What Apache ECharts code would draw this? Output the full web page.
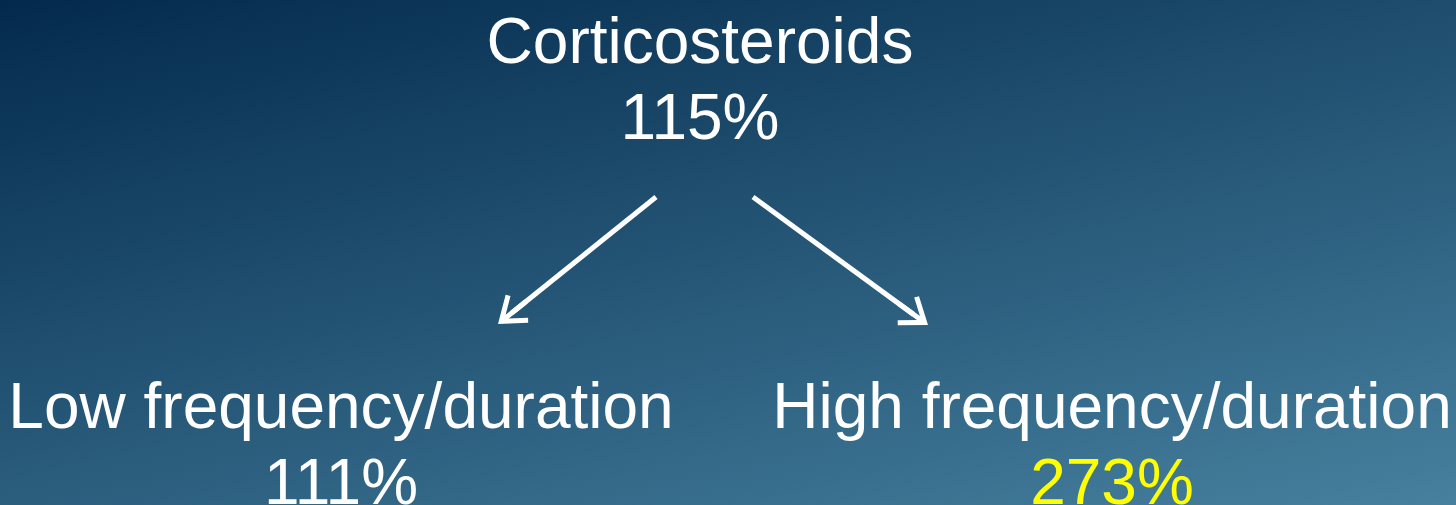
<!DOCTYPE html>
<html>
<head>
<meta charset="utf-8">
<style>
  html, body { margin: 0; padding: 0; }
  #main { width: 1456px; height: 505px; }
</style>
<script src="https://cdn.jsdelivr.net/npm/echarts@6/dist/echarts.min.js"></script>
</head>
<body>
<div id="main"></div>
<script>
// diagram data
var names = ['Corticosteroids', 'Low frequency/duration', 'High frequency/duration'];
var percents = [115, 111, 273];
var highlight = [false, false, true];
// arrows: parent -> child (index into names)
var links = [[0, 1], [0, 2]];

// layout (pixel space, y down)
var nodePos = [[700, 83], [341, 448], [1112, 448]];
var arrowStart = [[656, 197], [753, 197]];
var arrowTip = [[498, 324], [928, 325]];

var headSize = 36;
// open chevron pointing up, with a short stem, in a 36x36 box
var headPath = 'path://M18,0 L0,24.3 L4,27.3 L15.5,11.8 L15.5,36 L20.5,36 L20.5,11.8 L32,27.3 L36,24.3 Z';

var myChart = echarts.init(document.getElementById('main'));

var nodes = [];
names.forEach(function (n, i) {
  nodes.push({
    name: n,
    value: nodePos[i],
    symbolSize: 0,
    label: {
      show: true,
      position: 'inside',
      formatter: '{t|' + n + '}\n{' + (highlight[i] ? 'y' : 't') + '|' + percents[i] + '%}'
    }
  });
});

var edges = [];
links.forEach(function (l, i) {
  var s = arrowStart[i], t = arrowTip[i];
  var dx = t[0] - s[0], dy = t[1] - s[1];
  var len = Math.sqrt(dx * dx + dy * dy);
  // symbol is centred on the edge end, so pull the end back by half the head
  var end = [t[0] - dx / len * headSize / 2, t[1] - dy / len * headSize / 2];
  nodes.push({ name: 'a' + i, value: s, symbolSize: 0, label: { show: false } });
  nodes.push({ name: 'b' + i, value: end, symbolSize: 0, label: { show: false } });
  edges.push({ source: 'a' + i, target: 'b' + i });
});

option = {
  backgroundColor: {
    type: 'linear', x: 0, y: 0, x2: 185, y2: 798, global: true,
    colorStops: [
      { offset: 0, color: '#032a4d' },
      { offset: 1, color: '#46809e' }
    ]
  },
  animation: false,
  grid: { left: 0, top: 0, right: 0, bottom: 0 },
  xAxis: { type: 'value', min: 0, max: 1456, show: false },
  yAxis: { type: 'value', min: 0, max: 505, inverse: true, show: false },
  series: [
    {
      type: 'graph',
      coordinateSystem: 'cartesian2d',
      layout: 'none',
      silent: true,
      data: nodes,
      links: edges,
      edgeSymbol: ['none', headPath],
      edgeSymbolSize: [0, headSize],
      lineStyle: { color: '#ffffff', width: 5, opacity: 1, curveness: 0 },
      itemStyle: { color: '#ffffff' },
      label: {
        rich: {
          t: { color: '#ffffff', fontFamily: 'Liberation Sans', fontSize: 64, lineHeight: 76 },
          y: { color: '#ffff00', fontFamily: 'Liberation Sans', fontSize: 64, lineHeight: 76 }
        }
      }
    }
  ]
};
myChart.setOption(option);
</script>
</body>
</html>
